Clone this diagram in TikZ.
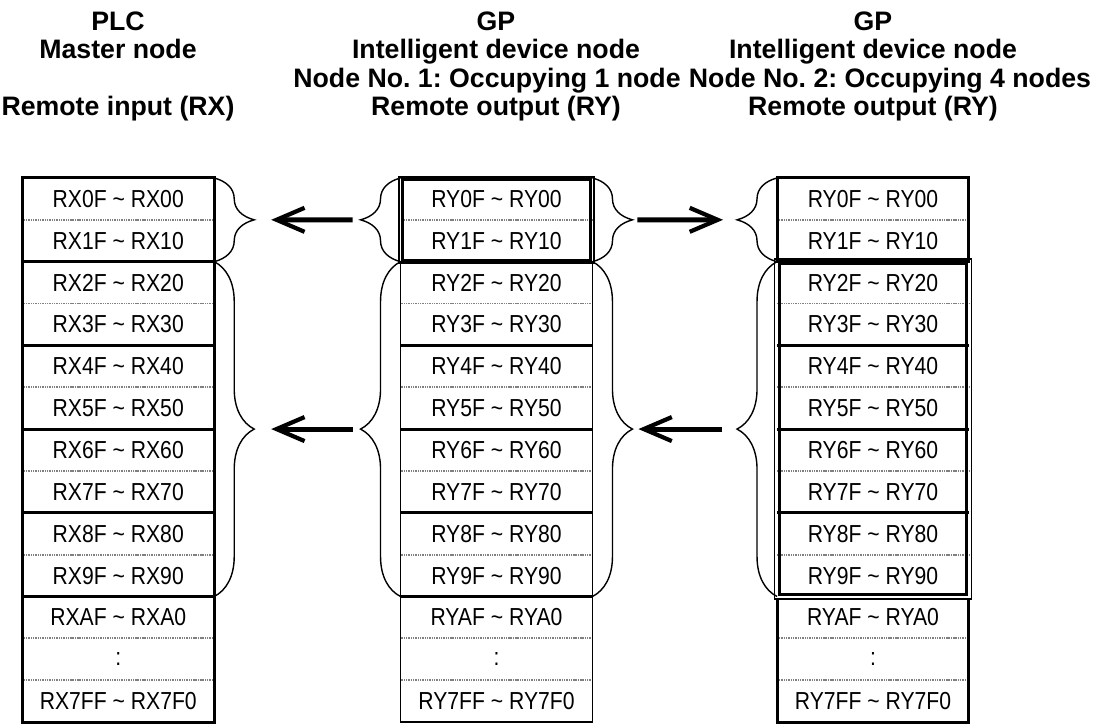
\documentclass[tikz,border=0pt]{standalone}
\usepackage{fontspec}
\setmainfont{Liberation Sans}
\newfontfamily\cellfont[FakeStretch=0.86]{Liberation Sans}
\usetikzlibrary{arrows.meta,decorations.pathreplacing}
\frenchspacing

\tikzset{
  cell/.style={minimum width=3.84cm,minimum height=0.837cm,inner sep=0pt,outer sep=0pt,
    font=\cellfont\fontsize{14}{16}\selectfont},
  head/.style={anchor=base,inner sep=0pt,font=\bfseries\fontsize{15.2}{18}\selectfont},
  tabframe/.style={line width=1.7pt},
  thinframe/.style={line width=1.1pt},
  outframe/.style={line width=0.8pt},
  solidsep/.style={line width=1.7pt},
  dotsep/.style={line width=1pt,black!50,dash pattern=on 0.6pt off 0.4pt},
  brc/.style={decorate,decoration={brace,amplitude=0.8cm},line width=0.8pt},
  flow/.style={line width=2.8pt,-{Straight Barb[length=0.56cm,width=0.48cm,line width=2.4pt]}}
}

\begin{document}
\begin{tikzpicture}[x=0.02cm,y=-0.02cm]
\useasboundingbox (0,0) rectangle (1100,724);

% headings
\node[head] (plc)  at (118,30)    {PLC};
\node[head] (mst)  at (118,58.5)  {Master node};
\node[head] (rxin) at (118,115.5) {Remote input (RX)};
\node[head] (gp1)  at (496,30)    {GP};
\node[head] (idn1) at (496,58.5)  {Intelligent device node};
\node[head] (no1)  at (487,87)    {Node No. 1: Occupying 1 node};
\node[head] (ry1)  at (496,115.5) {Remote output (RY)};
\node[head] (gp2)  at (873,30)    {GP};
\node[head] (idn2) at (873,58.5)  {Intelligent device node};
\node[head] (no2)  at (890,87)    {Node No. 2: Occupying 4 nodes};
\node[head] (ry2)  at (873,115.5) {Remote output (RY)};

% cells
\foreach \k/\h in {0/0,1/1,2/2,3/3,4/4,5/5,6/6,7/7,8/8,9/9,10/A} {
  \node[cell] (x\k) at (118.25,{198.9+41.85*\k}) {RX\h F \textasciitilde\ RX\h 0};
  \node[cell] (m\k) at (496.5,{198.9+41.85*\k}) {RY\h F \textasciitilde\ RY\h 0};
  \node[cell] (r\k) at (873,{198.9+41.85*\k}) {RY\h F \textasciitilde\ RY\h 0};
}
\node[cell] (x11) at (118.25,659.25) {:};
\node[cell] (m11) at (496.5,659.25) {:};
\node[cell] (r11) at (873,659.25) {:};
\node[cell] (x12) at (118.25,701.1) {RX7FF \textasciitilde\ RX7F0};
\node[cell] (m12) at (496.5,701.1) {RY7FF \textasciitilde\ RY7F0};
\node[cell] (r12) at (873,701.1) {RY7FF \textasciitilde\ RY7F0};

% row lines
\foreach \k/\s in {0/dotsep,2/dotsep,3/solidsep,4/dotsep,5/solidsep,6/dotsep,
                   7/solidsep,8/dotsep,10/dotsep,11/dotsep}
  \foreach \c in {x,m,r}
    \draw[\s] (\c\k.south west) -- (\c\k.south east);
\draw[solidsep] (x1.south west) -- (x1.south east);
\draw[solidsep] (x9.south west) -- (x9.south east);
\draw[solidsep] (m9.south west) -- (m9.south east);
\draw[solidsep] (r1.south west) -- (r1.south east);

% frames
\draw[tabframe] (x0.north west) rectangle (x12.south east);
\draw[thinframe] (m2.north west) rectangle (m12.south east);
\draw[outframe] ([shift={(-1.5,-1)}]m0.north west) rectangle ([shift={(1.5,2)}]m1.south east);
\draw[tabframe] ([shift={(2,2)}]m0.north west) rectangle ([shift={(-2,-1.5)}]m1.south east);
\draw[tabframe] (r0.north west) rectangle (r1.south east);
\draw[tabframe] ([yshift=-0.05cm]r10.north west) -- (r12.south west) -- (r12.south east) -- ([yshift=-0.05cm]r10.north east);
\draw[outframe] ([shift={(-2.5,-2.5)}]r2.north west) rectangle ([shift={(2.5,2.5)}]r9.south east);
\draw[tabframe] ([shift={(2.5,2)}]r2.north west) rectangle ([shift={(-2,-2)}]r9.south east);

% braces
\draw[brc] (x0.north east) -- node[coordinate,midway,xshift=0.8cm] (xb1) {} (x1.south east);
\draw[brc] (x2.north east) -- node[coordinate,midway,xshift=0.8cm] (xb2) {} (x9.south east);
\draw[brc] (m1.south west) -- node[coordinate,midway,xshift=-0.8cm] (ml1) {} (m0.north west);
\draw[brc] (m9.south west) -- node[coordinate,midway,xshift=-0.8cm] (ml2) {} (m2.north west);
\draw[brc] (m0.north east) -- node[coordinate,midway,xshift=0.8cm] (mr1) {} (m1.south east);
\draw[brc] (m2.north east) -- node[coordinate,midway,xshift=0.8cm] (mr2) {} (m9.south east);
\draw[brc] (r1.south west) -- node[coordinate,midway,xshift=-0.8cm] (rl1) {} (r0.north west);
\draw[brc] (r9.south west) -- node[coordinate,midway,xshift=-0.8cm] (rl2) {} (r2.north west);

% transfers
\draw[flow,shorten <=0.16cm,shorten >=0.34cm] (ml1) -- (xb1);
\draw[flow,shorten <=0.16cm,shorten >=0.34cm] (ml2) -- (xb2);
\draw[flow,shorten <=0.1cm,shorten >=0.28cm] (mr1) -- (rl1);
\draw[flow,shorten <=0.3cm,shorten >=0.12cm] (rl2) -- (mr2);
\end{tikzpicture}
\end{document}
